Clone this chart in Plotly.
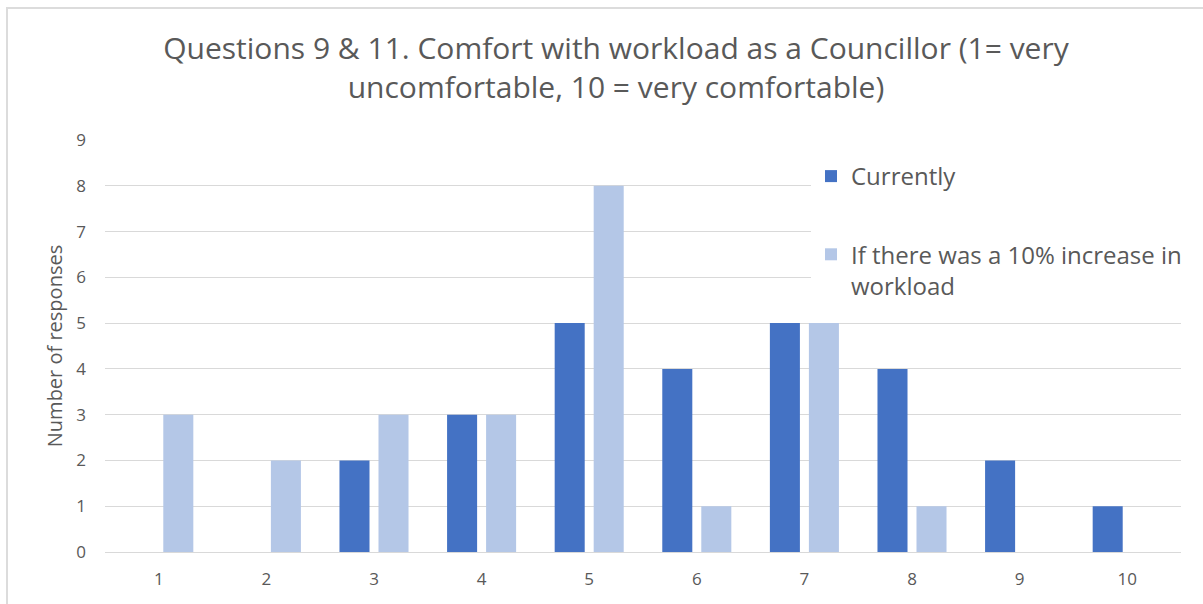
import plotly.graph_objects as go

categories = ["1", "2", "3", "4", "5", "6", "7", "8", "9", "10"]
currently = [0, 0, 2, 3, 5, 4, 5, 4, 2, 1]
increase = [3, 2, 3, 3, 8, 1, 5, 1, 0, 0]
y_ticks = [0, 1, 2, 3, 4, 5, 6, 7, 8, 9]

GRAY = "#595959"
FONT = "Open Sans"

fig = go.Figure()
fig.add_trace(go.Bar(x=categories, y=currently, name="Currently",
                     marker=dict(color="#4472C4", line=dict(width=0)),
                     legendgroup="a"))
fig.add_trace(go.Bar(x=categories, y=increase,
                     name="If there was a 10% increase in<br>workload",
                     marker=dict(color="#B4C7E7", line=dict(width=0)),
                     legendgroup="b"))

W, H = 1203, 604
L, R, T, B = 105, 22, 140, 52
pw, ph = W - L - R, H - T - B

fig.update_layout(
    width=W, height=H,
    margin=dict(l=L, r=R, t=T, b=B),
    paper_bgcolor="white", plot_bgcolor="white",
    barmode="group", bargap=0.275, bargroupgap=0.23,
    font=dict(family=FONT, color=GRAY),
    title=dict(text="Questions 9 & 11. Comfort with workload as a Councillor (1= very<br>uncomfortable, 10 = very comfortable)",
               x=616 / W, xanchor="center", y=1 - 59 / H, yanchor="middle",
               font=dict(family=FONT, size=30, color=GRAY)),
    xaxis=dict(showgrid=False, showline=True, linecolor="#D9D9D9", linewidth=1,
               ticks="", tickfont=dict(size=17, color=GRAY), ticklabelstandoff=12,
               fixedrange=True),
    yaxis=dict(range=[0, 9], tickvals=y_ticks, showgrid=True, gridcolor="#D9D9D9",
               gridwidth=1, zeroline=False, showline=False, ticks="",
               tickfont=dict(size=17, color=GRAY), ticklabelstandoff=18,
               title=dict(text="Number of responses", font=dict(size=20, color=GRAY),
                          standoff=8)),
    legend=dict(x=(811 - L) / pw, xanchor="left", y=(H - B - 154) / ph, yanchor="top",
                bgcolor="white", font=dict(size=24, color=GRAY, family=FONT),
                tracegroupgap=44, traceorder="grouped", valign="top"),
    shapes=[dict(type="rect", xref="paper", yref="paper",
                 x0=(7 - L) / pw, x1=(W + 5 - L) / pw,
                 y0=(H - B - (H + 5)) / ph, y1=(H - B - 8) / ph,
                 line=dict(color="#DCDCDC", width=2), fillcolor="rgba(0,0,0,0)")],
)

fig.write_html("out.html", config={"displayModeBar": False},
               post_script="document.body.style.margin='0';document.body.style.overflow='hidden';")
